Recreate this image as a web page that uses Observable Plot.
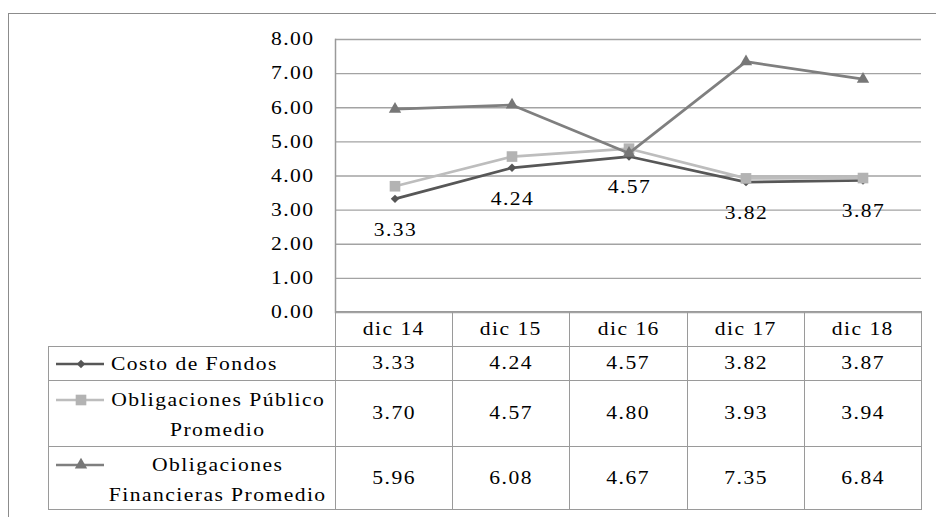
<!DOCTYPE html>
<html><head><meta charset="utf-8">
<script src="https://cdn.jsdelivr.net/npm/d3@7"></script>
<script src="https://cdn.jsdelivr.net/npm/@observablehq/plot@0.6"></script>
<style>
html,body{margin:0;padding:0;background:#fff;}
#wrap{position:relative;width:936px;height:517px;overflow:hidden;background:#fff;font-family:"Liberation Serif","Times New Roman",serif;}
#frame{position:absolute;left:8px;top:13px;width:1000px;height:1000px;border-left:1.5px solid #8c8c8c;border-top:1.5px solid #8c8c8c;}
#chart{position:absolute;left:0;top:0;}
#chart svg{display:block;}
#chart g.sxg{transform-box:fill-box;transform:scaleX(1.2);transform-origin:center center;}
#chart g.sxg.end{transform-origin:right center;}
#tbl{position:absolute;left:48px;top:311.25px;border-collapse:collapse;table-layout:fixed;font-size:18px;letter-spacing:1.2px;color:#000;}
#tbl td{border:1.5px solid #9a9a9a;padding:0;text-align:center;vertical-align:middle;}
#tbl td.blank{border-top:none;border-left:none;}
.cell{position:relative;display:flex;align-items:center;justify-content:center;}
.leg{position:relative;}
.key{position:absolute;left:7px;}
.lab{position:absolute;left:60px;width:218px;top:3px;bottom:0;display:flex;flex-direction:column;justify-content:center;align-items:center;line-height:30px;text-align:center;}
.lab.left{align-items:flex-start;left:62px;top:0;}
.sx{display:inline-block;white-space:nowrap;transform:scaleX(1.2);transform-origin:center;}
.lab.left .sx{transform-origin:left center;}
</style>
</head><body>
<div id="wrap"><div id="frame"></div><div id="chart"></div><table id="tbl"></table></div>
<script>
// ---- data ----
const categories = ["dic 14", "dic 15", "dic 16", "dic 17", "dic 18"];
const costoFondos = [3.33, 4.24, 4.57, 3.82, 3.87];
const obligPublico = [3.70, 4.57, 4.80, 3.93, 3.94];
const obligFinancieras = [5.96, 6.08, 4.67, 7.35, 6.84];
const yTicks = [0, 1, 2, 3, 4, 5, 6, 7, 8];
const seriesNames = ["Costo de Fondos", "Obligaciones Público Promedio", "Obligaciones Financieras Promedio"];
const seriesLabelLines = [["Costo de Fondos"], ["Obligaciones Público", "Promedio"], ["Obligaciones", "Financieras Promedio"]];

// ---- styles ----
const seriesDefs = [
  {name: seriesNames[0], values: costoFondos, stroke: "#575757", fill: "#555555", symbol: "diamond2", r: 3.8},
  {name: seriesNames[1], values: obligPublico, stroke: "#bdbdbd", fill: "#b3b3b3", symbol: "square", r: 6.0},
  {name: seriesNames[2], values: obligFinancieras, stroke: "#7f7f7f", fill: "#777777", symbol: "triangle", r: 4.6}
];
const rows = seriesDefs.flatMap(s => categories.map((c, i) => ({cat: c, value: s.values[i], series: s.name})));

const marks = [
  Plot.ruleY(yTicks, {stroke: "#a3a3a3", strokeWidth: 1.4}),
  Plot.frame({anchor: "left", stroke: "#9a9a9a", strokeWidth: 1.5})
];
for (const s of seriesDefs) {
  const d = rows.filter(r => r.series === s.name);
  marks.push(Plot.line(d, {x: "cat", y: "value", stroke: s.stroke, strokeWidth: 2.7}));
  marks.push(Plot.dot(d, {x: "cat", y: "value", symbol: s.symbol, r: s.r, fill: s.fill, stroke: "none"}));
}
marks.push(Plot.text(rows.filter(r => r.series === seriesNames[0]), {x: "cat", y: "value", text: d => d.value.toFixed(2), dy: 31, dx: 0.5, fill: "#000"}));
marks.push(Plot.axisY({ticks: yTicks, tickFormat: d => d.toFixed(2), tickSize: 0, tickPadding: 21, fill: "#000", label: null}));

const chart = Plot.plot({
  width: 936, height: 330,
  marginLeft: 335, marginRight: 15, marginTop: 39, marginBottom: 18,
  style: "font-family: 'Liberation Serif', 'Times New Roman', serif; font-size: 18px; letter-spacing: 1.2px; background: transparent; overflow: visible;",
  x: {type: "band", domain: categories, padding: 0, axis: null},
  y: {domain: [0, 8], axis: null, label: null},
  marks
});
document.getElementById("chart").appendChild(chart);
// the source image is horizontally widened: stretch each label around its own anchor
chart.querySelectorAll("text").forEach(t => {
  const anchor = getComputedStyle(t).textAnchor;
  const g = document.createElementNS("http://www.w3.org/2000/svg", "g");
  g.setAttribute("class", anchor === "end" ? "sxg end" : "sxg");
  t.parentNode.insertBefore(g, t);
  g.appendChild(t);
});

// ---- data table below the chart ----
const colW = [287, 117.2, 117.2, 117.2, 117.2, 117.2];
const rowH = [33.5, 33.5, 64.5, 62.5];
const tbl = d3.select("#tbl");
tbl.append("colgroup").selectAll("col").data(colW).join("col").style("width", d => d + "px");
const head = tbl.append("tr");
head.append("td").attr("class", "blank").append("div").style("height", rowH[0] + "px");
categories.forEach(c => head.append("td").append("div").attr("class", "cell").style("height", rowH[0] + "px")
  .append("span").attr("class", "sx").text(c));

function keySvg(s) {
  const w = 48, h = 16;
  const size = Math.PI * s.r * s.r;
  const type = {diamond2: d3.symbolDiamond2, square: d3.symbolSquare, triangle: d3.symbolTriangle}[s.symbol];
  const path = d3.symbol(type, size)();
  return `<svg width="${w}" height="${h}"><line x1="0" x2="${w}" y1="${h/2}" y2="${h/2}" stroke="${s.stroke}" stroke-width="2.6"/><path transform="translate(${w/2+1},${h/2})" d="${path}" fill="${s.fill}"/></svg>`;
}

seriesDefs.forEach((s, k) => {
  const tr = tbl.append("tr");
  const h = rowH[k + 1];
  const lines = seriesLabelLines[k];
  const leg = tr.append("td").append("div").attr("class", "leg").style("height", h + "px");
  const firstLineCenter = lines.length === 1 ? h / 2 : h / 2 - 15 + 1.5;
  leg.append("div").attr("class", "key").style("top", (firstLineCenter - 8) + "px").html(keySvg(s));
  const lab = leg.append("div").attr("class", lines.length === 1 ? "lab left" : "lab");
  lines.forEach(t => lab.append("div").append("span").attr("class", "sx").text(t));
  s.values.forEach(v => tr.append("td").append("div").attr("class", "cell").style("height", h + "px")
    .append("span").attr("class", "sx").text(v.toFixed(2)));
});
</script>
</body></html>
